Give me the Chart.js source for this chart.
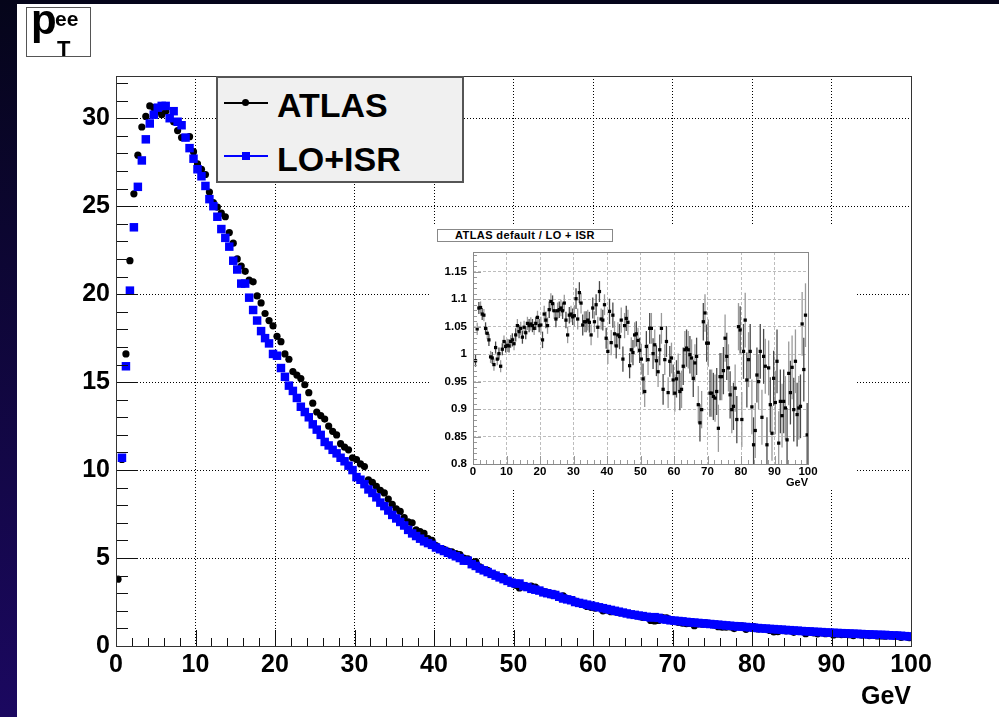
<!DOCTYPE html>
<html>
<head>
<meta charset="utf-8">
<script src="https://cdn.jsdelivr.net/npm/chart.js@4.4.1/dist/chart.umd.min.js"></script>
<style>
  html, body { margin: 0; padding: 0; }
  body {
    width: 999px; height: 717px; overflow: hidden; position: relative;
    background: linear-gradient(to bottom, #05051a, #1b0860);
    font-family: "Liberation Sans", Arial, sans-serif;
  }
  #panel { position: absolute; left: 17px; top: 4px; right: 0; bottom: 0; background: #fff; }
  #main { position: absolute; left: 0; top: 0; }
  #inset { position: absolute; left: 430px; top: 225px; background: #fff; }
  .abs { position: absolute; line-height: 1; white-space: nowrap; font-weight: bold; color: #000; }
  #titlebox { position: absolute; left: 26px; top: 7px; width: 65px; height: 50px; box-sizing: border-box;
    border: 1.5px solid #555; background: #fff; }
  #legend { position: absolute; left: 216px; top: 76px; width: 248px; height: 107px; box-sizing: border-box;
    background: #f0f0f0; border: 2px solid #555; }
  #insettitle { position: absolute; left: 437px; top: 229px; width: 176px; height: 13px; box-sizing: border-box;
    border: 1px solid #888; background: #fff; font-weight: bold; font-size: 11px; line-height: 11px;
    letter-spacing: 0.4px; text-align: center; }
</style>
</head>
<body>
<div id="panel"></div>
<canvas id="main" width="999" height="717"></canvas>
<canvas id="inset" width="425" height="265"></canvas>

<div id="titlebox"></div>
<div class="abs" style="left:31px; top:-1px; font-size:42px;">p</div>
<div class="abs" style="left:55px; top:8px; font-size:21px;">ee</div>
<div class="abs" style="left:57px; top:38px; font-size:22px;">T</div>

<div id="legend">
  <div style="position:absolute; left:6px; top:24px; width:44px; height:1.5px; background:#000;"></div>
  <div style="position:absolute; left:24px; top:21px; width:7px; height:7px; border-radius:50%; background:#000;"></div>
  <div class="abs" style="left:59px; top:10px; font-size:34px;">ATLAS</div>
  <div style="position:absolute; left:6px; top:77px; width:44px; height:1.5px; background:#0000ff;"></div>
  <div style="position:absolute; left:24px; top:74px; width:8px; height:8px; background:#0000ff;"></div>
  <div class="abs" style="left:59px; top:64px; font-size:34px;">LO+ISR</div>
</div>

<div id="insettitle">ATLAS default / LO + ISR</div>

<script>
// binning: 200 bins of 0.5 GeV from 0 to 100
const binWidth = 0.5;
const nBins = 200;
const binCenters = Array.from({ length: nBins }, (_, i) => binWidth * (i + 0.5));

const xTicks = [0, 10, 20, 30, 40, 50, 60, 70, 80, 90, 100];
const mainYTicks = [0, 5, 10, 15, 20, 25, 30];
const insetYTicks = [0.8, 0.85, 0.9, 0.95, 1, 1.05, 1.1, 1.15];

// ATLAS (black circles)
const atlas = [
  3.8, 10.6, 16.6, 21.9, 25.7, 27.9, 29.5, 30.1, 30.7, 30.6,
  30.4, 30.2, 30.4, 30.0, 29.8, 29.3, 28.9, 28.9, 28.95, 28.1,
  27.4, 27.1, 26.8, 25.8, 25.2, 24.95, 24.6, 24.4, 23.5, 22.9,
  22.0, 21.6, 21.3, 20.8, 20.7, 19.9, 19.5, 18.9, 18.5, 18.2,
  17.6, 17.3, 16.6, 16.3, 15.6, 15.4, 15.2, 14.85, 14.4, 13.8,
  13.3, 13.1, 12.9, 12.5, 12.2, 12.0, 11.5, 11.3, 11.15, 10.7,
  10.6, 10.35, 10.2, 9.45, 9.3, 9.07, 8.85, 8.7, 8.35, 8.05,
  7.8, 7.65, 7.3, 7.05, 7.0, 6.6, 6.5, 6.4, 6.1, 6.0,
  5.7, 5.55, 5.5, 5.4, 5.35, 5.25, 5.2, 5.0, 4.95, 4.75,
  4.8, 4.5, 4.35, 4.3, 4.1, 4.05, 3.95, 3.95, 3.7, 3.65,
  3.45, 3.3, 3.45, 3.35, 3.4, 3.35, 3.15, 3.1, 3.05, 2.9,
  2.95, 2.75, 2.85, 2.7, 2.6, 2.55, 2.45, 2.4, 2.25, 2.2,
  2.15, 2.2, 2.0, 2.05, 1.95, 1.95, 1.9, 1.9, 1.85, 1.8,
  1.75, 1.7, 1.62, 1.66, 1.45, 1.42, 1.45, 1.62, 1.6, 1.5,
  1.44, 1.34, 1.3, 1.27, 1.28, 1.15, 1.26, 1.24, 1.31, 1.24,
  1.2, 1.1, 1.07, 1.07, 1.08, 0.99, 1.16, 1.15, 0.95, 1.06,
  1.1, 0.97, 0.99, 0.99, 0.88, 0.8, 0.81, 0.89, 0.86, 0.9,
  0.78, 0.87, 0.83, 0.7, 0.81, 0.74, 0.69, 0.76, 0.7, 0.75,
  0.63, 0.68, 0.65, 0.66, 0.64, 0.59, 0.67, 0.63, 0.65, 0.59,
  0.64, 0.57, 0.57, 0.56, 0.64, 0.58, 0.62, 0.49, 0.57, 0.47
];

// LO+ISR (blue squares)
const loIsr = [
  null, 10.7, 15.9, 20.2, 23.8, 26.1, 27.6, 28.8, 29.7, 30.2,
  30.6, 30.7, 30.7, 30.0, 30.4, 29.8, 29.6, 28.9, 28.3, 27.7,
  27.1, 26.7, 26.15, 25.4, 25.0, 24.4, 23.7, 23.2, 22.7, 21.9,
  21.4, 20.6, 20.6, 19.8, 19.1, 18.5, 17.9, 17.5, 17.2, 16.6,
  16.5, 15.8, 15.3, 14.8, 14.5, 14.1, 13.6, 13.3, 13.0, 12.6,
  12.3, 12.0, 11.6, 11.4, 11.15, 10.95, 10.7, 10.5, 10.25, 10.0,
  9.6, 9.45, 9.2, 8.9, 8.7, 8.45, 8.15, 7.95, 7.7, 7.45,
  7.25, 7.05, 6.85, 6.6, 6.4, 6.25, 6.1, 5.95, 5.85, 5.75,
  5.6, 5.5, 5.4, 5.3, 5.2, 5.1, 5.0, 4.85, 4.85, 4.65,
  4.55, 4.4, 4.3, 4.2, 4.1, 4.0, 3.9, 3.8, 3.7, 3.6,
  3.55, 3.55, 3.4, 3.35, 3.25, 3.2, 3.15, 3.05, 3.0, 2.95,
  2.9, 2.8, 2.7, 2.65, 2.6, 2.5, 2.45, 2.4, 2.35, 2.3,
  2.25, 2.2, 2.15, 2.1, 2.05, 2.0, 1.95, 1.9, 1.85, 1.8,
  1.77, 1.73, 1.7, 1.66, 1.62, 1.64, 1.6, 1.53, 1.5, 1.46,
  1.44, 1.42, 1.4, 1.37, 1.35, 1.33, 1.31, 1.29, 1.27, 1.25,
  1.23, 1.21, 1.19, 1.17, 1.15, 1.13, 1.11, 1.1, 1.08, 1.06,
  1.04, 1.02, 1.0, 0.99, 0.97, 0.96, 0.94, 0.93, 0.91, 0.9,
  0.88, 0.87, 0.85, 0.84, 0.83, 0.81, 0.8, 0.79, 0.77, 0.76,
  0.75, 0.74, 0.73, 0.72, 0.71, 0.7, 0.69, 0.68, 0.67, 0.66,
  0.65, 0.64, 0.63, 0.63, 0.61, 0.6, 0.59, 0.58, 0.56, 0.55
];

// inset: ATLAS default / LO + ISR
const ratio = [
  null,
  0.988, 1.046, 1.084, 1.085, 1.073, 1.071, 1.047, 1.038, 1.026, 0.995,
  0.993, 0.981, 1.012, 0.991, 1.001, 0.978, 1.009, 1.023, 1.014, 1.016,
  1.015, 1.023, 1.026, 1.019, 1.035, 1.052, 1.041, 1.047, 1.031, 1.049,
  1.039, 1.056, 1.052, 1.055, 1.052, 1.047, 1.056, 1.067, 1.052, 1.053,
  1.026, 1.073, 1.062, 1.052, 1.081, 1.096, 1.092, 1.079, 1.064, 1.079,
  1.081, 1.084, 1.079, 1.093, 1.062, 1.035, 1.071, 1.073, 1.068, 1.070,
  1.101, 1.064, 1.112, 1.093, 1.053, 1.059, 1.059, 1.062, 1.058, 1.035,
  1.084, 1.059, 1.090, 1.049, 1.114, 1.064, 1.062, 1.090, 1.029, 1.005,
  1.078, 1.021, 1.071, 1.037, 1.015, 1.035, 1.032, 1.062, 0.991, 1.052,
  1.065, 1.058, 0.979, 1.008, 1.003, 1.035, 1.037, 1.025, 1.007, 0.991,
  0.955, 0.932, 1.014, 0.990, 1.047, 1.047, 1.001, 1.017, 0.988, 0.968,
  1.008, 1.047, 0.936, 0.990, 1.023, 0.930, 0.987, 0.993, 0.953, 0.929,
  0.955, 0.967, 0.932, 0.936, 0.978, 1.008, 1.011, 1.008, 0.999, 0.993,
  0.956, 0.984, 0.996, 0.908, 0.875, 0.899, 1.059, 1.075, 1.020, 1.020,
  0.929, 0.929, 0.923, 0.920, 0.932, 0.865, 0.959, 0.959, 0.970, 1.029,
  0.996, 0.975, 0.926, 0.899, 0.905, 0.938, 0.881, 1.050, 1.044, 0.881,
  1.005, 1.062, 0.953, 0.990, 1.005, 0.904, 0.835, 0.861, 0.962, 0.950,
  1.005, 0.885, 0.996, 0.978, 0.835, 0.975, 0.908, 0.856, 0.956, 0.912,
  0.987, 0.838, 0.914, 0.888, 0.914, 0.902, 0.844, 0.965, 0.930, 0.976,
  0.899, 0.987, 0.890, 0.902, 0.905, 1.055, 0.972, 1.071, 0.853
];

// error bar half-length, read per 10 GeV band
const ratioErrBand = [0.011, 0.012, 0.015, 0.019, 0.023, 0.028, 0.034, 0.043, 0.05, 0.058];

const FONT = '"Liberation Sans", Arial, sans-serif';

function toPoints(ys) {
  return ys.map((y, i) => ({ x: binCenters[i], y: y }));
}

// ROOT-like frame with ticks drawn inward
function frameTicksPlugin(opt) {
  return {
    id: 'frameTicks',
    afterDraw(chart) {
      const { ctx, chartArea: a, scales } = chart;
      const xs = scales.x, ys = scales.y;
      ctx.save();
      ctx.strokeStyle = opt.tickColor;
      ctx.lineWidth = 1;
      ctx.beginPath();
      for (let v = opt.xMin; v <= opt.xMax + 1e-9; v += opt.xMinor) {
        const px = Math.round(xs.getPixelForValue(v)) + 0.5;
        const major = Math.abs(v / opt.xMajor - Math.round(v / opt.xMajor)) < 1e-6;
        const len = major ? opt.xMajorLen : opt.xMinorLen;
        ctx.moveTo(px, a.bottom);
        ctx.lineTo(px, a.bottom - len);
      }
      for (let v = opt.yMin; v <= opt.yMax + 1e-9; v += opt.yMinor) {
        const py = Math.round(ys.getPixelForValue(v)) + 0.5;
        const major = Math.abs(v / opt.yMajor - Math.round(v / opt.yMajor)) < 1e-6;
        const len = major ? opt.yMajorLen : opt.yMinorLen;
        ctx.moveTo(a.left, py);
        ctx.lineTo(a.left + len, py);
      }
      ctx.stroke();

      ctx.strokeStyle = opt.frameColor;
      ctx.lineWidth = opt.frameWidth;
      ctx.strokeRect(Math.round(a.left) + 0.5, Math.round(a.top) + 0.5,
        Math.round(a.right - a.left), Math.round(a.bottom - a.top));

      ctx.fillStyle = '#000';
      ctx.font = 'bold ' + opt.titleSize + 'px ' + FONT;
      ctx.textAlign = 'right';
      ctx.textBaseline = 'alphabetic';
      ctx.fillText('GeV', a.right, a.bottom + opt.titleDrop);
      ctx.restore();
    }
  };
}

// vertical error bars for the ratio
const errorBars = {
  id: 'errorBars',
  beforeDatasetsDraw(chart) {
    const { ctx, chartArea: a, scales } = chart;
    ctx.save();
    ctx.beginPath();
    ctx.rect(a.left, a.top, a.right - a.left, a.bottom - a.top);
    ctx.clip();
    ctx.lineWidth = 1.3;
    ratio.forEach((r, i) => {
      if (r == null) return;
      const band = Math.min(ratioErrBand.length - 1, Math.floor(binCenters[i] / 10));
      const e = ratioErrBand[band];
      const px = scales.x.getPixelForValue(binCenters[i]);
      ctx.strokeStyle = i % 2 ? '#4a4a4a' : '#9a9a9a';
      ctx.beginPath();
      ctx.moveTo(px, scales.y.getPixelForValue(r - e));
      ctx.lineTo(px, scales.y.getPixelForValue(r + e));
      ctx.stroke();
    });
    ctx.restore();
  }
};

new Chart(document.getElementById('main'), {
  type: 'scatter',
  data: {
    datasets: [
      {
        label: 'LO+ISR',
        data: toPoints(loIsr),
        pointStyle: 'rect',
        pointRadius: 6,
        backgroundColor: '#0000ff',
        borderWidth: 0,
        order: 0
      },
      {
        label: 'ATLAS',
        data: toPoints(atlas),
        pointStyle: 'circle',
        pointRadius: 3.6,
        backgroundColor: '#000',
        borderWidth: 0,
        order: 1
      }
    ]
  },
  options: {
    responsive: false,
    animation: false,
    layout: { padding: { left: 0, top: 76, right: 88, bottom: 0 } },
    plugins: { legend: { display: false }, tooltip: { enabled: false } },
    scales: {
      x: {
        type: 'linear', min: 0, max: 100,
        afterFit: (s) => { s.height = 71; },
        afterBuildTicks: (s) => { s.ticks = xTicks.map((v) => ({ value: v })); },
        ticks: { padding: 4, color: '#000', maxRotation: 0, font: { family: FONT, size: 25, weight: 'bold' } },
        grid: { color: '#000', lineWidth: 1, drawTicks: false },
        border: { display: false, dash: [1, 2] }
      },
      y: {
        type: 'linear', min: 0, max: 32.4,
        afterFit: (s) => { s.width = 116; },
        afterBuildTicks: (s) => { s.ticks = mainYTicks.map((v) => ({ value: v })); },
        ticks: { padding: 6, color: '#000', font: { family: FONT, size: 25, weight: 'bold' } },
        grid: { color: '#000', lineWidth: 1, drawTicks: false },
        border: { display: false, dash: [1, 2] }
      }
    }
  },
  plugins: [frameTicksPlugin({
    xMin: 0, xMax: 100, xMinor: 2, xMajor: 10, xMajorLen: 16, xMinorLen: 8,
    yMin: 0, yMax: 32, yMinor: 1, yMajor: 5, yMajorLen: 22, yMinorLen: 12,
    tickColor: '#111', frameColor: '#333', frameWidth: 1,
    titleSize: 25, titleDrop: 58
  })]
});

new Chart(document.getElementById('inset'), {
  type: 'scatter',
  data: {
    datasets: [{
      label: 'ATLAS default / LO + ISR',
      data: toPoints(ratio),
      pointStyle: 'rect',
      pointRadius: 2.3,
      backgroundColor: '#000',
      borderWidth: 0
    }]
  },
  options: {
    responsive: false,
    animation: false,
    layout: { padding: { left: 0, top: 27, right: 47, bottom: 0 } },
    plugins: { legend: { display: false }, tooltip: { enabled: false } },
    scales: {
      x: {
        type: 'linear', min: 0, max: 100,
        afterFit: (s) => { s.height = 26; },
        afterBuildTicks: (s) => { s.ticks = xTicks.map((v) => ({ value: v })); },
        ticks: { padding: 1, color: '#000', maxRotation: 0, font: { family: FONT, size: 11.5, weight: 'bold' } },
        grid: { color: '#bdbdbd', lineWidth: 1, drawTicks: false },
        border: { display: false, dash: [3, 2] }
      },
      y: {
        type: 'linear', min: 0.8, max: 1.186,
        afterFit: (s) => { s.width = 43; },
        afterBuildTicks: (s) => { s.ticks = insetYTicks.map((v) => ({ value: v })); },
        ticks: {
          padding: 6, color: '#000', font: { family: FONT, size: 11.5, weight: 'bold' },
          callback: (v) => String(+v.toFixed(2))
        },
        grid: { color: '#bdbdbd', lineWidth: 1, drawTicks: false },
        border: { display: false, dash: [3, 2] }
      }
    }
  },
  plugins: [errorBars, frameTicksPlugin({
    xMin: 0, xMax: 100, xMinor: 2, xMajor: 10, xMajorLen: 8, xMinorLen: 4,
    yMin: 0.8, yMax: 1.18, yMinor: 0.01, yMajor: 0.05, yMajorLen: 8, yMinorLen: 4,
    tickColor: '#999', frameColor: '#888', frameWidth: 1,
    titleSize: 11, titleDrop: 22
  })]
});
</script>
</body>
</html>
